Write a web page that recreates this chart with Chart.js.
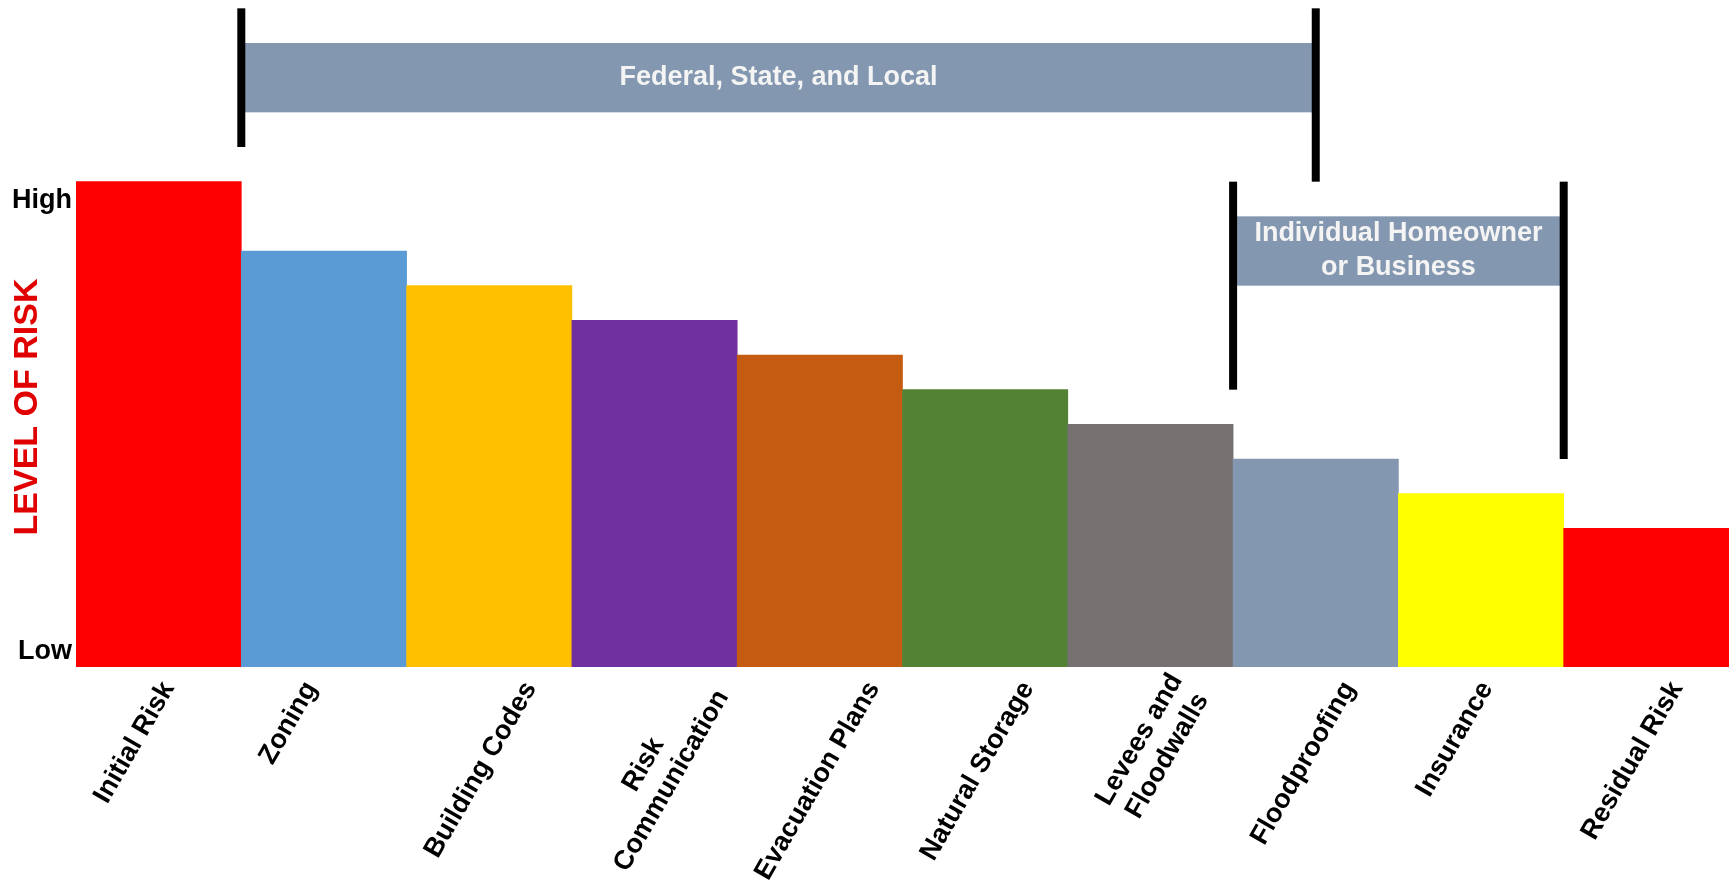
<!DOCTYPE html>
<html><head><meta charset="utf-8">
<script src="https://cdn.jsdelivr.net/npm/chart.js@4/dist/chart.umd.min.js"></script>
<style>html,body{margin:0;padding:0;background:#fff}</style>
</head><body>
<canvas id="c" width="1734" height="882" style="display:block;width:1734px;height:882px"></canvas>
<script>
// ---- data ----
const categories = ['Initial Risk', 'Zoning', 'Building Codes', ['Risk', 'Communication'], 'Evacuation Plans',
  'Natural Storage', ['Levees and', 'Floodwalls'], 'Floodproofing', 'Insurance', 'Residual Risk'];
const riskLevels = [14, 12, 11, 10, 9, 8, 7, 6, 5, 4];
const barColors = ['#FF0000', '#5B9BD5', '#FFC000', '#7030A0', '#C55A11', '#548235', '#767171', '#8497B0', '#FFFF00', '#FF0000'];
const yTickValues = [0.5, 13.5];
const yTickLabels = ['Low', 'High'];
const yAxisTitle = 'LEVEL OF RISK';
// responsibility brackets (x in category index units, y in risk units)
const bracketLabels = [['Federal, State, and Local'], ['Individual Homeowner', 'or Business']];
const bracketFrom = [0.5, 6.5];
const bracketTo = [7, 8.5];
const bracketBand = [[16, 18], [11, 13]];
const bracketLeftLine = [[15, 19], [8, 14]];
const bracketRightLine = [[14, 19], [6, 14]];

const FONT = "'Liberation Sans', Arial, sans-serif";

const bracketPlugin = {
  id: 'brackets',
  afterDraw(chart) {
    const ctx = chart.ctx, xs = chart.scales.x, ys = chart.scales.y;
    ctx.save();
    for (let i = 0; i < bracketLabels.length; i++) {
      const x1 = xs.getPixelForValue(bracketFrom[i]);
      const x2 = xs.getPixelForValue(bracketTo[i]);
      const bTop = ys.getPixelForValue(bracketBand[i][1]);
      const bBot = ys.getPixelForValue(bracketBand[i][0]);
      ctx.fillStyle = '#8497B0';
      ctx.fillRect(x1, bTop, x2 - x1, bBot - bTop);
      ctx.fillStyle = '#F4F4F4';
      ctx.font = 'bold 27px ' + FONT;
      ctx.textAlign = 'center';
      ctx.textBaseline = 'middle';
      const lines = bracketLabels[i];
      const lh = 34;
      const cy = (bTop + bBot) / 2;
      lines.forEach((t, k) => {
        ctx.fillText(t, (x1 + x2) / 2, cy + (k - (lines.length - 1) / 2) * lh);
      });
      ctx.fillStyle = '#000';
      const lw = 8;
      const l1 = ys.getPixelForValue(bracketLeftLine[i][1]), l2 = ys.getPixelForValue(bracketLeftLine[i][0]);
      ctx.fillRect(x1 - lw / 2, l1, lw, l2 - l1);
      const r1 = ys.getPixelForValue(bracketRightLine[i][1]), r2 = ys.getPixelForValue(bracketRightLine[i][0]);
      ctx.fillRect(x2 - lw / 2, r1, lw, r2 - r1);
    }
    ctx.restore();
  }
};

// Places the rotated category labels the way the original slide does: each label starts a fixed
// distance left of its bar centre and hangs from just below the axis; two-line labels are centred.
const labelPlacer = {
  id: 'labelPlacer',
  beforeDraw(chart) {
    const xs = chart.scales.x;
    const ctx = chart.ctx;
    const items = xs.getLabelItems();
    items.forEach((item, i) => {
      if (item._placed) return;
      item._placed = true;
      const lines = Array.isArray(item.label) ? item.label : [item.label];
      ctx.save();
      ctx.font = item.font.string;
      const widths = lines.map(l => ctx.measureText(l).width);
      ctx.restore();
      const W = Math.max(...widths);
      const lh = item.font.lineHeight;
      const rot = item.options.rotation;
      const ux = Math.cos(rot), uy = Math.sin(rot);
      const px = -uy, py = ux;
      const c = xs.getPixelForTick(i);
      const top = xs.top;
      item.textOffset = lh / 2;
      item.options.textBaseline = 'middle';
      if (lines.length === 1) {
        item.options.textAlign = 'right';
        item.options.translation = [c - 72 + 0.5 * W, top + 9];
      } else {
        item.options.textAlign = 'center';
        const n = lines.length;
        const cx = c + 3, cy = top + 16 + 0.44 * W;
        item.options.translation = [cx - (n * lh / 2) * px, cy - (n * lh / 2) * py];
      }
    });
  }
};

new Chart(document.getElementById('c'), {
  type: 'bar',
  data: {
    labels: categories,
    datasets: [{
      data: riskLevels,
      backgroundColor: barColors,
      borderWidth: 0,
      barPercentage: 1,
      categoryPercentage: 1
    }]
  },
  options: {
    responsive: false,
    animation: false,
    devicePixelRatio: 1,
    layout: { padding: { top: 147, right: 5, left: 0, bottom: 0 } },
    plugins: { legend: { display: false }, tooltip: { enabled: false } },
    scales: {
      x: {
        grid: { display: false, drawTicks: false },
        border: { display: false },
        ticks: {
          autoSkip: false,
          minRotation: 60,
          maxRotation: 60,
          padding: 13,
          labelOffset: 0,
          color: '#000',
          font: { family: FONT, size: 27, weight: 'bold' }
        },
        afterFit(scale) { scale.height = 215; }
      },
      y: {
        min: 0,
        max: 15,
        grid: { display: false, drawTicks: false },
        border: { display: false },
        afterBuildTicks(scale) { scale.ticks = yTickValues.map(v => ({ value: v })); },
        ticks: {
          padding: 4,
          labelOffset: 2,
          color: '#000',
          font: { family: FONT, size: 27, weight: 'bold' },
          callback(value) {
            const idx = yTickValues.indexOf(value);
            return idx >= 0 ? yTickLabels[idx] : '';
          }
        },
        title: {
          display: true,
          text: yAxisTitle,
          color: '#E00000',
          padding: { top: 7, bottom: 0 },
          font: { family: FONT, size: 34, weight: 'bold' }
        },
        afterFit(scale) { scale.width = 76; }
      }
    }
  },
  plugins: [labelPlacer, bracketPlugin]
});
</script>
</body></html>
